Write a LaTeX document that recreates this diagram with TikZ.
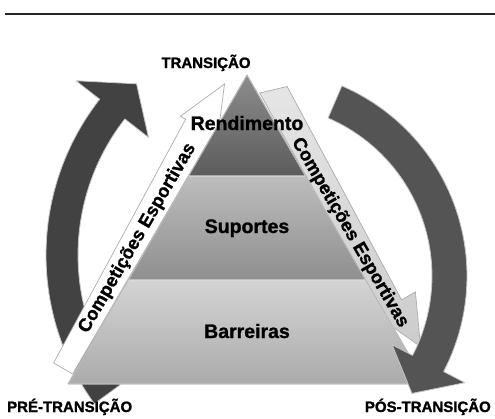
\documentclass[tikz,border=0pt]{standalone}
\usepackage{fontspec}
\setmainfont{Liberation Sans}[BoldFont={Liberation Sans Bold}, BoldFeatures={FakeBold=1.2}]
\begin{document}
\begin{tikzpicture}[x=1pt,y=-1pt,
  lbl/.style={font=\bfseries\fontsize{15}{15}\selectfont, inner sep=0pt},
  layer/.style={font=\bfseries\fontsize{19.5}{19.5}\selectfont, inner sep=0pt},
  bandtext/.style={font=\bfseries\fontsize{18.5}{18.5}\selectfont, inner sep=0pt},
  bigarrow/.style={draw=gray!45, line width=0.8pt, line join=round},
  bandshape/.style={draw=gray!65, line width=0.7pt, line join=miter},
  layershape/.style={draw=gray!25, line width=0.8pt, line join=round}]
\useasboundingbox (0,0) rectangle (495,418);
\fill[white] (0,0) rectangle (495,418);
\draw[line width=1.4pt, black!85] (5,14) -- (495,14);

% left curved arrow (behind)
\fill[bigarrow, fill=black!74]
  plot[domain=144:218, samples=50] ({299+253*cos(\x)},{255+253*sin(\x)})
  -- ({299+283*cos(218)},{255+283*sin(218)})
  -- ({299+236*cos(226.5)},{255+236*sin(226.5)})
  -- ({299+191*cos(218)},{255+191*sin(218)})
  -- plot[domain=218:144, samples=50] ({299+221*cos(\x)},{255+221*sin(\x)})
  -- cycle;

% left band
\filldraw[bandshape, fill=white] (53.6,362.9) -- (72.6,374) -- (212.4,134.8) -- (217.6,137.8)
  -- (224.5,84) -- (180.4,116.3) -- (185.6,119.3) -- cycle;
% right band
\shade[top color=black!10, bottom color=black!20] (287.1,86.5) -- (259.7,93.0) -- (381.7,311.4) -- (375.6,314.9)
  -- (420.5,346.6) -- (415.4,291.9) -- (401.6,299.9) -- cycle;
\draw[bandshape] (287.1,86.5) -- (259.7,93.0) -- (381.7,311.4) -- (375.6,314.9)
  -- (420.5,346.6) -- (415.4,291.9) -- (401.6,299.9) -- cycle;

% pyramid layers
\shade[top color=black!45, bottom color=black!64] (247,75) -- (305.5,176) -- (188.5,176) -- cycle;
\shade[top color=black!26, bottom color=black!44] (188.5,176) -- (305.5,176) -- (365.8,280) -- (128.2,280) -- cycle;
\shade[top color=black!17, bottom color=black!33] (128.2,280) -- (365.8,280) -- (426,384) -- (68,384) -- cycle;
\draw[layershape] (247,75) -- (305.5,176) -- (188.5,176) -- cycle;
\draw[layershape] (188.5,176) -- (305.5,176) -- (365.8,280) -- (128.2,280) -- cycle;
\draw[layershape] (128.2,280) -- (365.8,280) -- (426,384) -- (68,384) -- cycle;
\draw[draw=gray!60, line width=0.8pt, line join=round] (247,75) -- (426,384) -- (68,384) -- cycle;

% right curved arrow (front)
\fill[bigarrow, fill=black!67]
  plot[domain=-66.7:27.5, samples=50] ({260+207*cos(\x)},{276+207*sin(\x)})
  -- ({260+231*cos(27.5)},{276+231*sin(27.5)})
  -- ({260+192*cos(37.7)},{276+192*sin(37.7)})
  -- ({260+149*cos(27.5)},{276+149*sin(27.5)})
  -- plot[domain=27.5:-66.7, samples=50] ({260+172*cos(\x)},{276+172*sin(\x)})
  -- cycle;

% texts
\node[layer, anchor=base] (rend) at (247,130) {Rendimento};
\node[layer, anchor=base] (sup) at (247,233) {Suportes};
\node[layer, anchor=base] (bar) at (247,338) {Barreiras};
\node[bandtext, rotate=59.9] (compL) at (137.5,238.2) {Competições Esportivas};
\node[bandtext, rotate=-59.9] (compR) at (349.9,232.7) {Competições Esportivas};
\node[lbl, anchor=base] (trans) at (206,68) {TRANSIÇÃO};
\node[lbl, anchor=base west] (pre) at (7,412) {PRÉ-TRANSIÇÃO};
\node[lbl, anchor=base east] (pos) at (491,412) {PÓS-TRANSIÇÃO};
\end{tikzpicture}
\end{document}
